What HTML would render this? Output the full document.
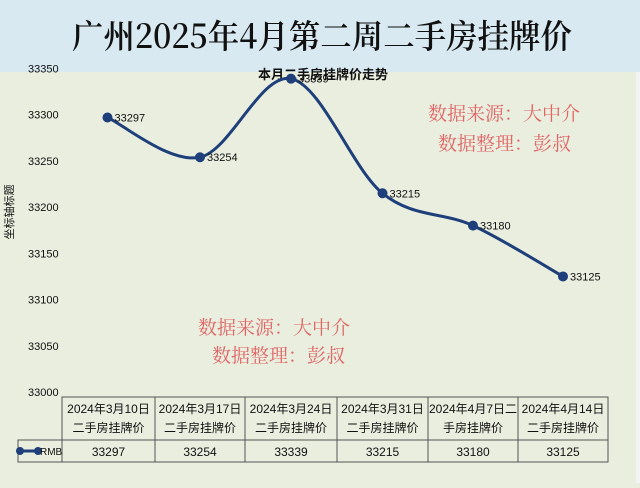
<!DOCTYPE html>
<html><head><meta charset="utf-8"><style>
body{margin:0;width:640px;height:483px;overflow:hidden;background:#e9eedf;font-family:"Liberation Sans","Noto Sans CJK SC",sans-serif}
</style></head><body>
<svg width="640" height="483" xmlns="http://www.w3.org/2000/svg">
<rect x="0" y="0" width="640" height="483" fill="#e9eedf"/>
<rect x="0" y="0" width="640" height="72" fill="#d8e9f1"/>
<rect x="636" y="72" width="4" height="411" fill="#f4f4f4"/>
<text x="72" y="48" textLength="500" lengthAdjust="spacingAndGlyphs" font-family="'Noto Serif CJK SC',serif" font-size="33" font-weight="600" fill="#111">广州2025年4月第二周二手房挂牌价</text>
<text x="323" y="79" text-anchor="middle" font-size="13" font-weight="bold" fill="#111">本月二手房挂牌价走势</text>
<text x="13" y="212" transform="rotate(-90 13 212)" text-anchor="middle" font-size="11" fill="#111">坐标轴标题</text>
<g id="yticks"></g>
<g font-family="'Noto Serif CJK SC',serif" fill="#e06666" font-size="19">
<text x="428" y="120">数据来源：大中介</text><text x="438" y="150">数据整理：彭叔</text>
<text x="198" y="334">数据来源：大中介</text><text x="212" y="362">数据整理：彭叔</text>
</g>
<path id="line" fill="none" stroke="#1f3f7a" stroke-width="3"/>
<g id="pts"></g>
<g id="table" font-size="12" fill="#111"></g>
</svg>
<script>
const categories=["2024年3月10日|二手房挂牌价","2024年3月17日|二手房挂牌价","2024年3月24日|二手房挂牌价","2024年3月31日|二手房挂牌价","2024年4月7日二|手房挂牌价","2024年4月14日|二手房挂牌价"];
const values=[33297,33254,33339,33215,33180,33125];
const yTicks=[33000,33050,33100,33150,33200,33250,33300,33350];
const NS="http://www.w3.org/2000/svg";
const y=v=>392-(v-33000)*0.9243;
const colL=[62,155,245,337,428,518],colW=[93,90,92,91,90,90];
const x=i=>colL[i]+colW[i]/2+(i==0?-1:0);
function mk(t,a,p,txt){const e=document.createElementNS(NS,t);for(const k in a)e.setAttribute(k,a[k]);if(txt!=null)e.textContent=txt;p.appendChild(e);return e;}
const yt=document.getElementById('yticks');
yTicks.forEach(v=>{const e=mk('text',{x:28,y:y(v)+4,'font-size':11,fill:'#111'},yt,v);

});
const P=values.map((v,i)=>[x(i),y(v)]);
let d=`M${P[0][0]},${P[0][1]}`;
for(let i=0;i<P.length-1;i++){const p0=P[i-1]||P[i],p1=P[i],p2=P[i+1],p3=P[i+2]||p2;
d+=` C${p1[0]+(p2[0]-p0[0])/6},${p1[1]+(p2[1]-p0[1])/6} ${p2[0]-(p3[0]-p1[0])/6},${p2[1]-(p3[1]-p1[1])/6} ${p2[0]},${p2[1]}`;}
document.getElementById('line').setAttribute('d',d);
const pg=document.getElementById('pts');
P.forEach((p,i)=>{const c=mk('circle',{cx:p[0],cy:p[1],r:5,fill:'#1f3f7a'},pg);


const t=mk('text',{x:p[0]+7,y:p[1]+4,'font-size':11,fill:'#111'},pg,values[i]);

});
const tb=document.getElementById('table');
const g=mk('g',{stroke:'#555','stroke-width':1,fill:'none'},tb);
mk('rect',{x:62,y:397,width:546,height:43},g);
mk('rect',{x:18,y:440,width:590,height:22},g);
colL.forEach(l=>mk('line',{x1:l,y1:397,x2:l,y2:462},g));
categories.forEach((c,i)=>{const [a,b]=c.split('|');const cx=colL[i]+colW[i]/2;
const t1=mk('text',{x:cx,y:413,'text-anchor':'middle'},tb,a);


mk('text',{x:cx,y:432,'text-anchor':'middle'},tb,b);
const tv=mk('text',{x:cx,y:456,'text-anchor':'middle'},tb,values[i]);

});
const lg=mk('g',{},tb);


mk('line',{x1:20,y1:451,x2:38,y2:451,stroke:'#1f3f7a','stroke-width':3},lg);
mk('circle',{cx:20,cy:451,r:4,fill:'#1f3f7a'},lg);mk('circle',{cx:38,cy:451,r:4,fill:'#1f3f7a'},lg);
mk('text',{x:40,y:455,'font-size':10},lg,'RMB');
</script>
</body></html>
